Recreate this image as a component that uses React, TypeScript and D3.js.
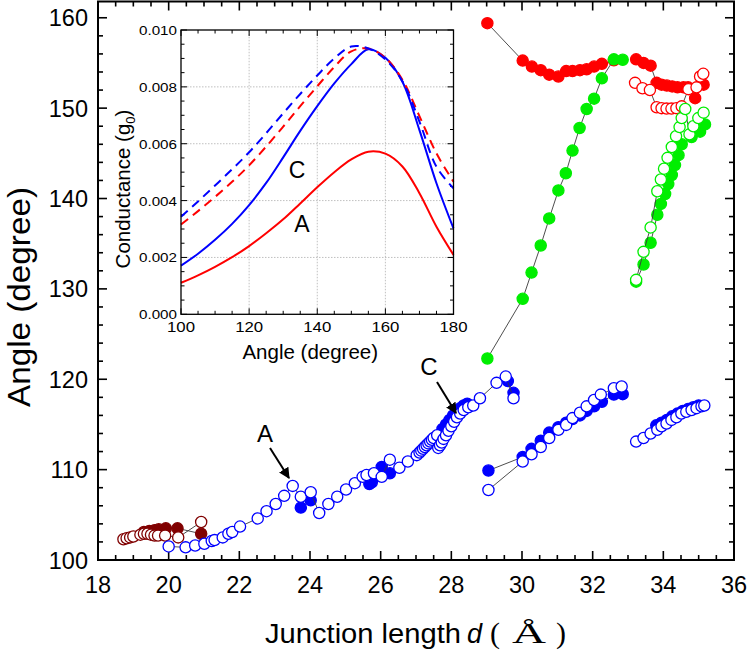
import React, { useEffect, useRef } from 'react'
import * as d3 from 'd3'

type Pt = [number, number]

// ---- main panel: junction length d (Å) vs angle (degree) ----
const brownOpen: Pt[] = [
  [18.72, 102.3], [18.81, 102.4], [18.91, 102.5], [19.0, 102.6], [19.2, 102.8], [19.3, 102.9],
  [19.4, 102.9], [19.5, 102.8], [19.6, 102.7], [19.7, 102.7], [19.9, 102.7], [20.27, 102.5], [20.92, 104.2],
]
const brownFilled: Pt[] = [
  [19.3, 103.1], [19.45, 103.2], [19.6, 103.3], [19.72, 103.4], [19.92, 103.5], [20.25, 103.5], [20.92, 102.9],
]

const blueOpenA: Pt[] = [
  [20.0, 101.5], [20.48, 101.4], [20.75, 101.6], [21.01, 101.8], [21.22, 102.1], [21.3, 102.2], [21.53, 102.5],
  [21.69, 102.9], [21.8, 103.1], [22.02, 103.7], [22.52, 104.6], [22.77, 105.4], [23.03, 106.2], [23.27, 107.1],
  [23.51, 108.2], [23.74, 107.0], [24.02, 107.5], [24.26, 105.2], [24.52, 106.2], [24.77, 107.0], [25.02, 107.8],
  [25.27, 108.5], [25.49, 109.2], [25.6, 109.4], [25.81, 109.6], [26.03, 109.2], [26.26, 111.1], [26.53, 110.2],
  [26.77, 110.9], [27.02, 111.6], [27.1, 111.9], [27.15, 112.1], [27.2, 112.3], [27.25, 112.5], [27.3, 112.7],
  [27.35, 112.9], [27.4, 113.1], [27.45, 113.3], [27.5, 113.5], [27.6, 113.8], [27.63, 112.4], [27.68, 112.7],
  [27.73, 113.0], [27.78, 113.4], [27.85, 113.8], [27.92, 114.3], [28.0, 114.8], [28.08, 115.3], [28.16, 115.8],
  [28.25, 116.2], [28.35, 116.6], [28.48, 116.9], [28.62, 117.1], [28.81, 117.9], [29.28, 119.6], [29.54, 120.3],
  [29.76, 117.9],
]
const blueFilledA: Pt[] = [[23.74, 105.8], [24.02, 106.6]]
const blueFilledB: Pt[] = [[25.68, 108.4], [25.75, 108.6], [26.03, 110.3], [26.26, 109.6]]
const blueFilledC: Pt[] = [
  [27.75, 114.5], [27.85, 115.0], [27.95, 115.5], [28.05, 116.0], [28.15, 116.4], [28.25, 116.8],
  [28.35, 117.1], [28.45, 117.3],
]
const blueFilledD: Pt[] = [[29.6, 119.8], [29.76, 118.5]]
const blueOpenB: Pt[] = [
  [29.05, 107.75], [30.02, 110.9], [30.27, 111.7], [30.53, 112.5], [30.77, 113.5], [31.03, 114.4], [31.25, 114.95],
  [31.43, 115.7], [31.64, 116.3], [31.83, 117.0], [32.04, 117.7], [32.23, 118.3], [32.6, 119.0], [32.82, 119.2],
]
const blueFilledE: Pt[] = [
  [29.05, 109.9], [30.02, 111.4], [30.27, 112.3], [30.53, 113.2], [30.77, 114.1], [31.03, 114.7], [31.25, 115.2],
  [31.43, 115.6], [31.64, 116.0], [31.83, 116.5], [32.04, 117.0], [32.26, 117.5], [32.6, 118.3], [32.85, 118.35],
]
const blueOpenC: Pt[] = [
  [33.23, 113.1], [33.44, 113.5], [33.64, 114.0], [33.83, 114.4], [33.95, 114.8], [34.09, 115.1], [34.23, 115.5],
  [34.37, 115.8], [34.51, 116.2], [34.65, 116.4], [34.8, 116.6], [34.94, 116.8], [35.08, 117.0], [35.16, 117.1],
]
const blueFilledF: Pt[] = [
  [33.8, 114.9], [33.95, 115.2], [34.1, 115.5], [34.25, 115.9], [34.4, 116.2], [34.55, 116.5], [34.7, 116.7],
  [34.85, 116.9], [35.0, 117.1],
]

const redFilledA: Pt[] = [
  [29.02, 159.4], [30.02, 155.26], [30.28, 154.6], [30.53, 154.2], [30.77, 153.7], [31.03, 153.5], [31.25, 154.1],
  [31.43, 154.1], [31.64, 154.2], [31.83, 154.3], [32.04, 154.6], [32.26, 154.9], [32.6, 155.3],
]
const redFilledB: Pt[] = [
  [33.23, 155.4], [33.44, 155.0], [33.64, 154.7], [33.81, 152.8], [33.95, 152.6], [34.1, 152.5], [34.25, 152.4],
  [34.4, 152.3], [34.57, 152.3], [34.7, 152.3], [34.9, 151.1], [35.14, 152.6],
]
const redOpen: Pt[] = [
  [33.2, 152.8], [33.41, 152.2], [33.62, 152.0], [33.81, 150.1], [33.95, 150.0], [34.09, 149.95], [34.23, 149.95],
  [34.37, 150.0], [34.52, 150.2], [34.71, 152.1], [34.94, 152.3], [35.04, 153.5], [35.13, 153.8],
]

const greenFilledA: Pt[] = [
  [29.02, 122.3], [30.02, 128.9], [30.27, 131.8], [30.53, 134.8], [30.77, 137.8], [31.03, 140.9], [31.24, 142.8],
  [31.43, 145.3], [31.63, 147.8], [31.83, 149.9], [32.04, 151.05], [32.26, 153.3], [32.6, 155.4], [32.85, 155.35],
]
const greenFilledB: Pt[] = [
  [33.23, 130.8], [33.44, 132.7], [33.64, 135.1], [33.83, 138.2], [33.93, 139.4], [34.05, 140.5], [34.14, 141.6],
  [34.24, 142.6], [34.33, 143.7], [34.43, 144.8], [34.52, 146.0], [34.8, 146.8], [35.04, 147.4], [35.18, 148.2],
]
const greenOpen: Pt[] = [
  [33.23, 131.0], [33.44, 134.1], [33.64, 136.8], [33.83, 140.8], [33.93, 142.1], [34.02, 143.3], [34.12, 144.5],
  [34.24, 145.7], [34.36, 146.9], [34.46, 147.9], [34.52, 148.9], [34.62, 149.9], [34.74, 147.1], [34.85, 148.0],
  [34.99, 148.9], [35.14, 149.5],
]

// ---- inset: conductance vs angle ----
const insetAngles = [100, 105, 110, 115, 120, 125, 130, 135, 140, 145, 150, 155, 160, 165, 170, 175, 180]
const condA = [0.00111, 0.00137, 0.00167, 0.00201, 0.0024, 0.00285, 0.00334, 0.0039, 0.00447, 0.005, 0.00545,
  0.00572, 0.00565, 0.0052, 0.00426, 0.00308, 0.00209]
const condC = [0.00171, 0.00213, 0.00262, 0.00318, 0.00384, 0.00462, 0.00552, 0.00645, 0.00732, 0.00812, 0.0088,
  0.00932, 0.00902, 0.00818, 0.00648, 0.00461, 0.00302]
const condAdash = [0.00316, 0.00363, 0.00413, 0.00466, 0.00524, 0.0059, 0.0066, 0.00732, 0.00802, 0.0087, 0.00925,
  0.00935, 0.00902, 0.00825, 0.00697, 0.00566, 0.00466]
const condCdash = [0.00343, 0.00397, 0.00453, 0.0051, 0.0057, 0.00637, 0.00707, 0.00775, 0.0084, 0.009,
  0.00942, 0.00935, 0.00897, 0.0082, 0.00678, 0.00519, 0.00443]

const xTicks = [18, 20, 22, 24, 26, 28, 30, 32, 34, 36]
const yTicks = [100, 110, 120, 130, 140, 150, 160]
const insetXTicks = [100, 120, 140, 160, 180]
const insetYTicks = [0, 0.002, 0.004, 0.006, 0.008, 0.01]

const FONT = 'Liberation Sans, Arial, Helvetica, sans-serif'
const SERIF = 'Liberation Serif, Times New Roman, serif'

export default function App() {
  const svgRef = useRef<SVGSVGElement>(null)

  useEffect(() => {
    const svg = d3.select(svgRef.current)
    svg.selectAll('*').remove()

    const x = d3.scaleLinear().domain([18, 36]).range([98, 734])
    const y = d3.scaleLinear().domain([100, 161.8]).range([560, 1.5])
    const [x0, x1] = x.range()
    const [y0, y1] = y.range()

    // arrow head
    svg.append('defs').append('marker')
      .attr('id', 'arr')
      .attr('viewBox', '0 0 10 10')
      .attr('refX', 9).attr('refY', 5)
      .attr('markerWidth', 5.5).attr('markerHeight', 5.5)
      .attr('orient', 'auto')
      .append('path').attr('d', 'M0,0 L10,5 L0,10 z').attr('fill', '#000')

    const g = svg.append('g')

    // ticks, inward on all four sides
    const minorX = d3.range(18, 36.001, 0.5)
    const minorY = d3.range(100, 161.8, 2)
    minorX.forEach(v => {
      const major = Math.abs(v / 2 - Math.round(v / 2)) < 1e-6
      const len = major ? 9 : 5
      g.append('line').attr('x1', x(v)).attr('x2', x(v)).attr('y1', y0).attr('y2', y0 - len)
        .attr('stroke', '#000').attr('stroke-width', 1.6)
      g.append('line').attr('x1', x(v)).attr('x2', x(v)).attr('y1', y1).attr('y2', y1 + len)
        .attr('stroke', '#000').attr('stroke-width', 1.6)
    })
    minorY.forEach(v => {
      const major = v % 10 === 0
      const len = major ? 9 : 5
      g.append('line').attr('y1', y(v)).attr('y2', y(v)).attr('x1', x0).attr('x2', x0 + len)
        .attr('stroke', '#000').attr('stroke-width', 1.6)
      g.append('line').attr('y1', y(v)).attr('y2', y(v)).attr('x1', x1).attr('x2', x1 - len)
        .attr('stroke', '#000').attr('stroke-width', 1.6)
    })

    g.append('rect').attr('x', x0).attr('y', y1).attr('width', x1 - x0).attr('height', y0 - y1)
      .attr('fill', 'none').attr('stroke', '#000').attr('stroke-width', 2)

    g.selectAll('.xl').data(xTicks).enter().append('text')
      .attr('x', d => x(d)).attr('y', 593).attr('text-anchor', 'middle')
      .style('font-family', FONT).style('font-size', '23.5px').text(d => d)
    g.selectAll('.yl').data(yTicks).enter().append('text')
      .attr('x', 88).attr('y', d => y(d) + 8.5).attr('text-anchor', 'end')
      .style('font-family', FONT).style('font-size', '23.5px').text(d => d)

    // axis titles
    svg.append('text').attr('x', 265).attr('y', 643)
      .attr('textLength', 196).attr('lengthAdjust', 'spacingAndGlyphs')
      .style('font-family', FONT).style('font-size', '27px').text('Junction length')
    svg.append('text').attr('x', 467).attr('y', 643)
      .style('font-family', FONT).style('font-size', '27px').style('font-style', 'italic').text('d')
    svg.append('text').attr('x', 490).attr('y', 643)
      .style('font-family', SERIF).style('font-size', '30px').text('(')
    svg.append('text').attr('x', 529).attr('y', 643).attr('text-anchor', 'middle')
      .attr('textLength', 34).attr('lengthAdjust', 'spacingAndGlyphs')
      .style('font-family', SERIF).style('font-size', '30px').text('Å')
    svg.append('text').attr('x', 556).attr('y', 643)
      .style('font-family', SERIF).style('font-size', '30px').text(')')
    svg.append('text').attr('transform', 'translate(30,297) rotate(-90)')
      .attr('text-anchor', 'middle').attr('textLength', 220).attr('lengthAdjust', 'spacingAndGlyphs')
      .style('font-family', FONT).style('font-size', '32px').text('Angle (degree)')

    // series: connecting line + markers
    const line = d3.line<Pt>().x(d => x(d[0])).y(d => y(d[1]))
    const drawSeries = (pts: Pt[], color: string, filled: boolean) => {
      g.append('path').attr('d', line(pts)).attr('fill', 'none')
        .attr('stroke', '#3a3a3a').attr('stroke-width', 0.9)
      g.append('g').selectAll('circle').data(pts).enter().append('circle')
        .attr('cx', d => x(d[0])).attr('cy', d => y(d[1])).attr('r', 5.6)
        .attr('fill', filled ? color : '#fff')
        .attr('stroke', color).attr('stroke-width', 1.3)
    }
    const brown = '#800000'
    const blue = '#0000ff'
    const red = '#ff0000'
    const green = '#00ee00'
    drawSeries(brownFilled, brown, true)
    drawSeries(brownOpen, brown, false)
    drawSeries(blueFilledA, blue, true)
    drawSeries(blueFilledB, blue, true)
    drawSeries(blueFilledC, blue, true)
    drawSeries(blueFilledD, blue, true)
    drawSeries(blueOpenA, blue, false)
    drawSeries(blueFilledE, blue, true)
    drawSeries(blueOpenB, blue, false)
    drawSeries(blueFilledF, blue, true)
    drawSeries(blueOpenC, blue, false)
    drawSeries(redFilledA, red, true)
    drawSeries(redFilledB, red, true)
    drawSeries(redOpen, red, false)
    drawSeries(greenFilledA, green, true)
    drawSeries(greenFilledB, green, true)
    drawSeries(greenOpen, green, false)

    // A / C annotations
    const note = (label: string, tx: number, ty: number, ax1: number, ay1: number, ax2: number, ay2: number) => {
      svg.append('text').attr('x', tx).attr('y', ty).attr('text-anchor', 'middle')
        .style('font-family', FONT).style('font-size', '24px').text(label)
      svg.append('line').attr('x1', ax1).attr('y1', ay1).attr('x2', ax2).attr('y2', ay2)
        .attr('stroke', '#000').attr('stroke-width', 2).attr('marker-end', 'url(#arr)')
    }
    note('A', 265, 442, 270, 448, 289, 478)
    note('C', 429, 375, 437, 382, 456, 413)

    // ---- inset ----
    const ix = d3.scaleLinear().domain([100, 180]).range([181, 453.5])
    const iy = d3.scaleLinear().domain([0, 0.01]).range([314.3, 30])
    const [ix0, ix1] = ix.range()
    const [iy0, iy1] = iy.range()
    const ins = svg.append('g')
    ins.append('rect').attr('x', ix0).attr('y', iy1).attr('width', ix1 - ix0).attr('height', iy0 - iy1)
      .attr('fill', '#fff')

    insetXTicks.slice(1, -1).forEach(v => {
      ins.append('line').attr('x1', ix(v)).attr('x2', ix(v)).attr('y1', iy0).attr('y2', iy1)
        .attr('stroke', '#b0b0b0').attr('stroke-width', 0.8).attr('stroke-dasharray', '1.5,1.5')
    })
    insetYTicks.slice(1, -1).forEach(v => {
      ins.append('line').attr('y1', iy(v)).attr('y2', iy(v)).attr('x1', ix0).attr('x2', ix1)
        .attr('stroke', '#b0b0b0').attr('stroke-width', 0.8).attr('stroke-dasharray', '1.5,1.5')
    })

    d3.range(100, 180.001, 5).forEach(v => {
      const len = v % 20 === 0 ? 6 : 3.5
      ins.append('line').attr('x1', ix(v)).attr('x2', ix(v)).attr('y1', iy0).attr('y2', iy0 - len)
        .attr('stroke', '#000').attr('stroke-width', 1)
      ins.append('line').attr('x1', ix(v)).attr('x2', ix(v)).attr('y1', iy1).attr('y2', iy1 + len)
        .attr('stroke', '#000').attr('stroke-width', 1)
    })
    d3.range(0, 20.5, 1).forEach(k => {
      const v = k * 0.0005
      const len = k % 4 === 0 ? 6 : 3.5
      ins.append('line').attr('y1', iy(v)).attr('y2', iy(v)).attr('x1', ix0).attr('x2', ix0 + len)
        .attr('stroke', '#000').attr('stroke-width', 1)
      ins.append('line').attr('y1', iy(v)).attr('y2', iy(v)).attr('x1', ix1).attr('x2', ix1 - len)
        .attr('stroke', '#000').attr('stroke-width', 1)
    })

    const cline = d3.line<number>().x((_, i) => ix(insetAngles[i])).y(d => iy(d)).curve(d3.curveCatmullRom.alpha(0.5))
    const curves: [number[], string, boolean][] = [
      [condA, red, false],
      [condC, blue, false],
      [condAdash, red, true],
      [condCdash, blue, true],
    ]
    curves.forEach(([vals, color, dashed]) => {
      ins.append('path').attr('d', cline(vals)).attr('fill', 'none')
        .attr('stroke', color).attr('stroke-width', 2)
        .attr('stroke-dasharray', dashed ? '9,6' : null)
    })

    ins.append('rect').attr('x', ix0).attr('y', iy1).attr('width', ix1 - ix0).attr('height', iy0 - iy1)
      .attr('fill', 'none').attr('stroke', '#000').attr('stroke-width', 1.3)

    ins.selectAll('.ixl').data(insetXTicks).enter().append('text')
      .attr('x', d => ix(d)).attr('y', iy0 + 18).attr('text-anchor', 'middle')
      .attr('textLength', 28).attr('lengthAdjust', 'spacingAndGlyphs')
      .style('font-family', FONT).style('font-size', '14.5px').text(d => d)
    ins.selectAll('.iyl').data(insetYTicks).enter().append('text')
      .attr('x', ix0 - 4).attr('y', d => iy(d) + 5).attr('text-anchor', 'end')
      .attr('textLength', 38).attr('lengthAdjust', 'spacingAndGlyphs')
      .style('font-family', FONT).style('font-size', '13px').text(d => d3.format('.3f')(d))

    ins.append('text').attr('x', (ix0 + ix1) / 2 - 7).attr('y', 359)
      .attr('text-anchor', 'middle')
      .style('font-family', FONT).style('font-size', '20.5px').text('Angle (degree)')
    const yt = ins.append('text').attr('transform', 'translate(130,189) rotate(-90)')
      .attr('text-anchor', 'middle')
      .style('font-family', FONT).style('font-size', '20.5px')
    yt.append('tspan').text('Conductance (g')
    yt.append('tspan').attr('dy', 5).style('font-size', '13px').text('0')
    yt.append('tspan').attr('dy', -5).text(')')

    ins.append('text').attr('x', 297).attr('y', 178).attr('text-anchor', 'middle')
      .style('font-family', FONT).style('font-size', '23px').text('C')
    ins.append('text').attr('x', 302).attr('y', 232).attr('text-anchor', 'middle')
      .style('font-family', FONT).style('font-size', '23px').text('A')
  }, [])

  return (
    <svg
      ref={svgRef}
      width={748}
      height={650}
      style={{ position: 'absolute', left: 0, top: 0, background: '#fff' }}
    />
  )
}
